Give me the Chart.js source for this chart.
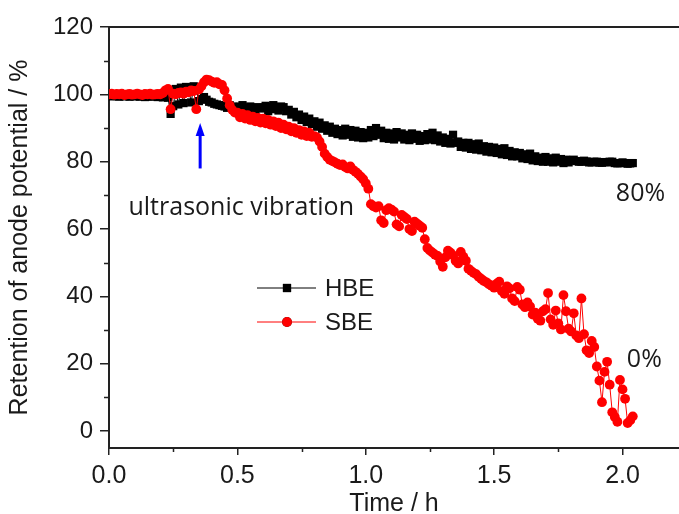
<!DOCTYPE html>
<html>
<head>
<meta charset="utf-8">
<title>Retention of anode potential</title>
<script src="https://cdn.jsdelivr.net/npm/chart.js@4.4.0/dist/chart.umd.min.js"></script>
<style>
  html, body { margin: 0; padding: 0; background: #fff; }
  canvas { display: block; }
</style>
</head>
<body>
<canvas id="chart" width="679" height="514"></canvas>
<script>
// time in hours, one reading every 0.01 h
const hours = [
  0.00, 0.01, 0.02, 0.03, 0.04, 0.05, 0.06, 0.07, 0.08, 0.09,
  0.10, 0.11, 0.12, 0.13, 0.14, 0.15, 0.16, 0.17, 0.18, 0.19,
  0.20, 0.21, 0.22, 0.23, 0.24, 0.25, 0.26, 0.27, 0.28, 0.29,
  0.30, 0.31, 0.32, 0.33, 0.34, 0.35, 0.36, 0.37, 0.38, 0.39,
  0.40, 0.41, 0.42, 0.43, 0.44, 0.45, 0.46, 0.47, 0.48, 0.49,
  0.50, 0.51, 0.52, 0.53, 0.54, 0.55, 0.56, 0.57, 0.58, 0.59,
  0.60, 0.61, 0.62, 0.63, 0.64, 0.65, 0.66, 0.67, 0.68, 0.69,
  0.70, 0.71, 0.72, 0.73, 0.74, 0.75, 0.76, 0.77, 0.78, 0.79,
  0.80, 0.81, 0.82, 0.83, 0.84, 0.85, 0.86, 0.87, 0.88, 0.89,
  0.90, 0.91, 0.92, 0.93, 0.94, 0.95, 0.96, 0.97, 0.98, 0.99,
  1.00, 1.01, 1.02, 1.03, 1.04, 1.05, 1.06, 1.07, 1.08, 1.09,
  1.10, 1.11, 1.12, 1.13, 1.14, 1.15, 1.16, 1.17, 1.18, 1.19,
  1.20, 1.21, 1.22, 1.23, 1.24, 1.25, 1.26, 1.27, 1.28, 1.29,
  1.30, 1.31, 1.32, 1.33, 1.34, 1.35, 1.36, 1.37, 1.38, 1.39,
  1.40, 1.41, 1.42, 1.43, 1.44, 1.45, 1.46, 1.47, 1.48, 1.49,
  1.50, 1.51, 1.52, 1.53, 1.54, 1.55, 1.56, 1.57, 1.58, 1.59,
  1.60, 1.61, 1.62, 1.63, 1.64, 1.65, 1.66, 1.67, 1.68, 1.69,
  1.70, 1.71, 1.72, 1.73, 1.74, 1.75, 1.76, 1.77, 1.78, 1.79,
  1.80, 1.81, 1.82, 1.83, 1.84, 1.85, 1.86, 1.87, 1.88, 1.89,
  1.90, 1.91, 1.92, 1.93, 1.94, 1.95, 1.96, 1.97, 1.98, 1.99,
  2.00, 2.01, 2.02, 2.03, 2.04,
];

const hbe = [
  99.6, 99.4, 99.7, 99.5, 99.3, 99.6, 99.4, 99.7, 99.3, 99.5,
  99.4, 99.6, 99.3, 99.5, 99.2, 99.4, 99.6, 99.3, 99.5, 99.2,
  99.4, 99.1, 99.3, 99.0, 94.2, 96.5, 101.6, 97.0, 102.0, 97.4,
  102.2, 101.8, 97.6, 102.4, 102.0, 98.0, 98.6, 99.2, 98.4, 97.8,
  97.6, 97.2, 97.0, 96.8, 96.6, 96.4, 96.0, 96.8, 96.4, 95.8,
  95.6, 96.4, 96.8, 96.0, 95.2, 96.4, 95.6, 94.8, 96.2, 95.8,
  96.0, 96.6, 95.0, 96.2, 96.8, 95.6, 95.2, 96.4, 96.2, 95.0,
  95.4, 94.0, 94.8, 93.2, 94.0, 92.4, 93.4, 91.8, 92.8, 91.2,
  92.0, 90.4, 91.6, 89.8, 90.8, 89.2, 90.4, 88.6, 89.8, 88.2,
  89.4, 87.8, 89.8, 88.0, 89.4, 87.4, 89.2, 87.2, 88.8, 87.0,
  88.6, 87.2, 89.4, 87.6, 90.0, 88.0, 89.2, 87.0, 88.6, 86.8,
  88.4, 86.6, 88.8, 87.2, 88.4, 86.6, 88.0, 86.4, 88.4, 86.8,
  88.0, 86.2, 87.6, 86.4, 88.2, 86.6, 88.6, 86.4, 87.8, 86.0,
  87.2, 85.6, 86.8, 85.4, 88.0, 85.6, 86.0, 84.4, 85.6, 84.2,
  85.6, 83.8, 85.2, 83.6, 85.4, 83.4, 84.6, 83.0, 84.4, 82.8,
  84.2, 82.6, 83.8, 82.2, 84.0, 82.0, 83.2, 81.6, 82.8, 81.6,
  82.6, 81.0, 82.2, 80.8, 82.4, 80.4, 81.6, 80.2, 81.2, 80.0,
  81.4, 80.0, 81.0, 79.8, 81.2, 80.0, 80.8, 79.6, 80.6, 79.8,
  80.4, 80.6, 80.2, 80.0, 80.0, 80.3, 80.1, 79.8, 79.8, 80.0,
  80.0, 79.7, 79.7, 79.9, 79.8, 80.0, 80.0, 79.6, 79.5, 79.6,
  79.8, 79.6, 79.4, 79.5, 79.6,
];

const sbe = [
  100.0, 100.2, 99.9, 100.1, 100.0, 100.2, 99.8, 100.0, 100.1, 99.9,
  100.0, 100.2, 100.0, 99.8, 100.1, 100.0, 100.2, 99.9, 100.0, 100.1,
  100.0, 100.4, 101.2, 101.6, 95.6, 100.2, 100.0, 100.4, 100.6, 100.2,
  100.8, 100.6, 101.2, 101.0, 95.6, 101.4, 102.4, 103.6, 104.4, 104.2,
  103.8, 103.4, 103.6, 103.0, 102.8, 101.2, 98.8, 96.8, 95.4, 94.6,
  94.6, 93.2, 94.2, 92.8, 93.8, 92.4, 93.4, 92.0, 93.0, 91.6,
  92.8, 91.4, 92.4, 91.0, 92.0, 90.6, 91.6, 90.0, 91.0, 89.6,
  90.4, 89.0, 90.0, 88.6, 89.4, 88.0, 89.0, 87.6, 88.6, 87.4,
  87.6, 87.2, 86.0, 84.4, 82.4, 81.4, 80.6, 80.2, 79.8, 79.4,
  79.0, 79.2, 78.4, 78.0, 78.6, 77.6, 77.0, 76.4, 75.6, 74.8,
  73.6, 72.0, 67.4, 66.8, 66.4, 66.8, 62.6, 61.8, 65.6, 66.2,
  65.8, 65.2, 61.4, 60.8, 64.2, 63.6, 63.0, 60.0, 59.4, 62.2,
  61.6, 61.0, 60.4, 57.0, 54.4, 53.6, 53.0, 52.4, 52.0, 50.4,
  48.8, 51.6, 53.6, 53.0, 52.2, 50.6, 49.8, 53.2, 51.8, 50.6,
  48.2, 47.6, 47.0, 46.6, 45.8, 45.2, 44.6, 44.2, 43.6, 43.2,
  42.6, 43.8, 44.4, 41.6, 40.8, 43.0, 42.4, 39.4, 38.6, 42.8,
  42.0, 37.6, 36.8, 38.2, 37.0, 34.6, 35.2, 33.4, 32.8, 35.6,
  36.2, 41.0, 33.2, 31.6, 35.8, 32.0, 30.2, 40.4, 35.6, 30.4,
  29.6, 35.0, 28.4, 27.6, 39.4, 28.8, 24.0, 23.2, 26.8, 25.0,
  19.2, 15.0, 8.6, 17.6, 20.6, 13.8, 5.6, 4.2, 2.8, 15.2,
  12.4, 9.6, 2.4, 3.2, 4.4,
];

const xTicks = [0, 0.5, 1, 1.5, 2];
const xMinorTicks = [0.25, 0.75, 1.25, 1.75];
const yTicks = [0, 20, 40, 60, 80, 100, 120];
const yMinorTicks = [10, 30, 50, 70, 90, 110];

const notes = [
  { text: "ultrasonic vibration", x: 0.515, y: 64.2 },
  { text: "80%", x: 2.07, y: 68.2 },
  { text: "0%", x: 2.085, y: 19 },
];
const arrow = { x: 0.355, from: 78, to: 91.5 };

const axisColor = "#222";
const textColor = "#1a1a1a";
const arialFont = "'Liberation Sans', Arial, sans-serif";
const noteFont = "'Open Sans', 'Noto Sans', sans-serif";

const points = (values) => hours.map((t, i) => ({ x: t, y: values[i] }));

// frame top line, minor ticks, arrow, notes and the in-plot legend
const decorations = {
  id: "decorations",
  afterDraw(chart) {
    const { ctx, chartArea: area } = chart;
    const xs = chart.scales.x;
    const ys = chart.scales.y;
    ctx.save();

    ctx.strokeStyle = axisColor;
    ctx.lineWidth = 2;
    ctx.beginPath();
    ctx.moveTo(area.left - 1, area.top);
    ctx.lineTo(area.right, area.top);
    ctx.stroke();

    ctx.lineWidth = 1.5;
    ctx.beginPath();
    xMinorTicks.forEach((v) => {
      const px = Math.round(xs.getPixelForValue(v)) + 0.5;
      ctx.moveTo(px, area.bottom);
      ctx.lineTo(px, area.bottom + 4);
    });
    yMinorTicks.forEach((v) => {
      const py = Math.round(ys.getPixelForValue(v)) + 0.5;
      ctx.moveTo(area.left, py);
      ctx.lineTo(area.left - 5, py);
    });
    ctx.stroke();

    const ax = xs.getPixelForValue(arrow.x);
    const ay0 = ys.getPixelForValue(arrow.from);
    const ay1 = ys.getPixelForValue(arrow.to);
    ctx.strokeStyle = "#0000ff";
    ctx.fillStyle = "#0000ff";
    ctx.lineWidth = 3;
    ctx.beginPath();
    ctx.moveTo(ax, ay0);
    ctx.lineTo(ax, ay1 + 10);
    ctx.stroke();
    ctx.beginPath();
    ctx.moveTo(ax, ay1);
    ctx.lineTo(ax - 4.5, ay1 + 13);
    ctx.lineTo(ax + 4.5, ay1 + 13);
    ctx.closePath();
    ctx.fill();

    ctx.fillStyle = textColor;
    ctx.font = `25px ${noteFont}`;
    ctx.textAlign = "center";
    ctx.textBaseline = "alphabetic";
    notes.forEach((n) => {
      ctx.fillText(n.text, xs.getPixelForValue(n.x), ys.getPixelForValue(n.y));
    });

    const legendLeft = area.left + 148;
    const legendTop = area.top + 261;
    chart.data.datasets.forEach((ds, i) => {
      const ly = legendTop + i * 34;
      ctx.strokeStyle = ds.borderColor;
      ctx.lineWidth = 1;
      ctx.beginPath();
      ctx.moveTo(legendLeft, ly);
      ctx.lineTo(legendLeft + 59, ly);
      ctx.stroke();
      Chart.helpers.drawPoint(ctx, {
        pointStyle: ds.pointStyle,
        radius: ds.pointRadius,
        borderWidth: 0,
      }, legendLeft + 30, ly);
      ctx.fillStyle = ds.backgroundColor;
      ctx.fill();
      ctx.fillStyle = textColor;
      ctx.font = `24px ${arialFont}`;
      ctx.textAlign = "left";
      ctx.textBaseline = "middle";
      ctx.fillText(ds.label, legendLeft + 68, ly + 1);
    });

    ctx.restore();
  },
};

const ctx = document.getElementById("chart").getContext("2d");
new Chart(ctx, {
  type: "line",
  data: {
    datasets: [
      {
        label: "HBE",
        data: points(hbe),
        borderColor: "#000000",
        backgroundColor: "#000000",
        borderWidth: 1,
        pointStyle: "rect",
        pointRadius: 5.8,
        pointBorderWidth: 0,
        order: 1,
      },
      {
        label: "SBE",
        data: points(sbe),
        borderColor: "#ff0000",
        backgroundColor: "#ff0000",
        borderWidth: 1,
        pointStyle: "circle",
        pointRadius: 4.9,
        pointBorderWidth: 0,
        order: 0,
      },
    ],
  },
  options: {
    responsive: false,
    animation: false,
    layout: { autoPadding: false, padding: { top: 27, right: 0, bottom: 0, left: 0 } },
    plugins: {
      legend: { display: false },
      tooltip: { enabled: false },
    },
    scales: {
      x: {
        type: "linear",
        min: 0,
        max: 2.22,
        afterBuildTicks: (scale) => {
          scale.ticks = xTicks.map((v) => ({ value: v }));
        },
        afterFit: (scale) => {
          scale.height = 66;
          scale.paddingLeft = 0;
          scale.paddingRight = 0;
        },
        ticks: {
          color: textColor,
          font: { family: arialFont, size: 25 },
          padding: 6,
          maxRotation: 0,
          callback: (v) => Number(v).toFixed(1),
        },
        grid: { drawOnChartArea: false, tickLength: 7, color: axisColor, lineWidth: 1.5 },
        border: { color: axisColor, width: 2 },
        title: {
          display: true,
          text: "Time / h",
          color: textColor,
          font: { family: arialFont, size: 25, lineHeight: 1 },
          padding: { top: 0, bottom: -3 },
        },
      },
      y: {
        min: -5,
        max: 120,
        afterBuildTicks: (scale) => {
          scale.ticks = yTicks.map((v) => ({ value: v }));
        },
        afterFit: (scale) => {
          scale.width = 109;
        },
        ticks: {
          color: textColor,
          font: { family: arialFont, size: 24 },
          padding: 7,
        },
        grid: { drawOnChartArea: false, tickLength: 9, color: axisColor, lineWidth: 1.5 },
        border: { color: axisColor, width: 2 },
        title: {
          display: true,
          text: "Retention of anode potential / %",
          color: textColor,
          font: { family: arialFont, size: 25, lineHeight: 1 },
          padding: { top: 8, bottom: 0 },
        },
      },
    },
  },
  plugins: [decorations],
});
</script>
</body>
</html>
